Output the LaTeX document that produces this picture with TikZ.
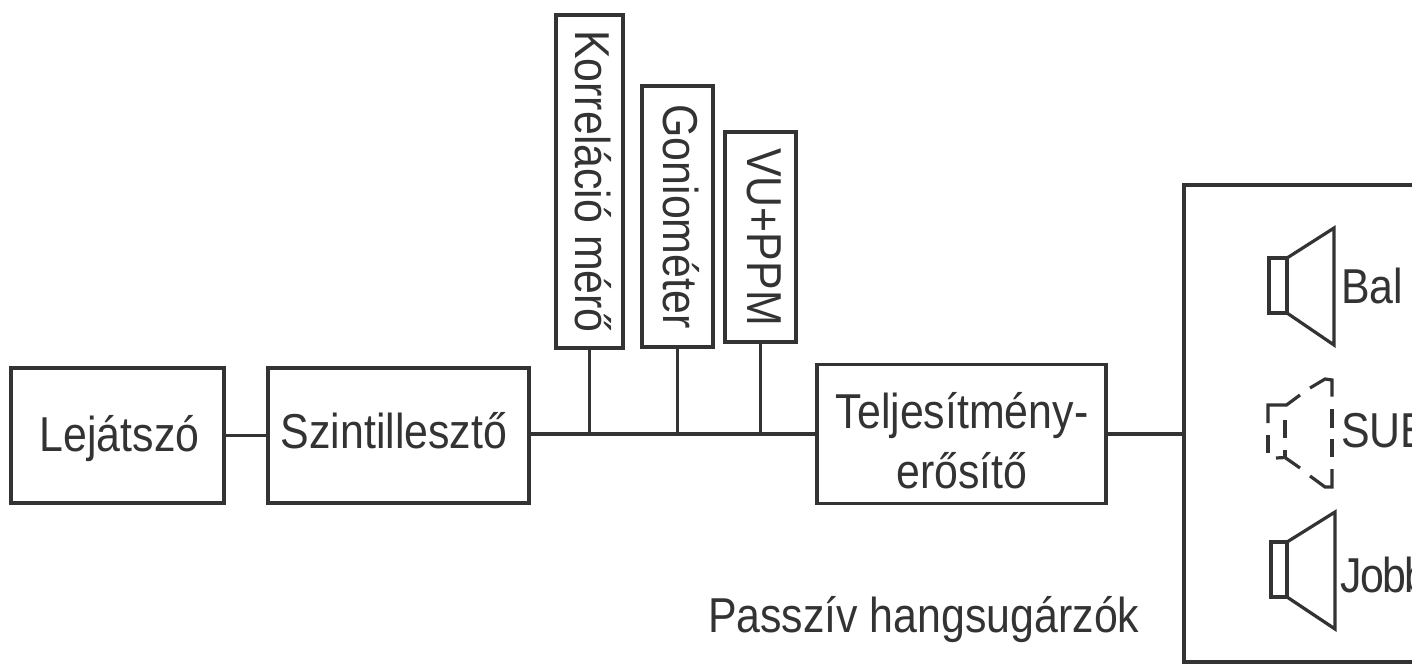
\documentclass[tikz,border=0pt]{standalone}
\usepackage{fontspec}
\setmainfont[FakeStretch=0.875]{Liberation Sans}
\definecolor{ink}{gray}{0.2}
\tikzset{
  every node/.style={text=ink,font=\fontsize{49}{59}\selectfont},
  blockbox/.style={draw=ink,line width=3.4pt,fill=white,rectangle,inner sep=0pt,outer sep=0pt,align=center},
  wire/.style={draw=ink,line width=3.4pt},
  spk/.style={draw=ink,line width=3.2pt,line join=miter},
  lab/.style={inner sep=0pt,outer sep=0pt}
}
\newcommand{\vtext}[1]{\hspace*{8pt}\rotatebox[origin=c]{-90}{#1}}
\begin{document}
\begin{tikzpicture}[x=1pt,y=-1pt]
\clip (0,0) rectangle (1412,665);
\useasboundingbox (0,0) rectangle (1412,665);
\fill[white] (0,0) rectangle (1412,665);
% blocks
\node[blockbox,minimum width=213pt,minimum height=135pt] (lej) at (117.5,435.5) {};
\node[lab,anchor=base] (lejt) at (119.5,451) {Lejátszó};
\node[blockbox,minimum width=261pt,minimum height=135pt] (szint) at (398.5,435.5) {};
\node[lab,anchor=base] (szintt) at (394,448) {Szintillesztő};
\node[blockbox,minimum width=289pt,minimum height=139pt] (telj) at (961.5,434) {};
\node[lab,anchor=base] (telj1) at (962,428) {Teljesítmény-};
\node[lab,anchor=base] (telj2) at (962,488) {erősítő};
\node[blockbox,minimum width=67pt,minimum height=333pt] (korr) at (589.5,181.5) {\vtext{Korreláció mérő}};
\node[blockbox,minimum width=71pt,minimum height=261pt] (gon) at (677.5,216.5) {\vtext{Goniométer}};
\node[blockbox,minimum width=71pt,minimum height=210pt] (vu) at (760.5,237) {\vtext{VU+PPM}};
\node[blockbox,fill=none,minimum width=400pt,minimum height=477pt] (frame) at (1384,423.5) {};
% connectors
\coordinate (busk) at (korr.south |- telj.west);
\coordinate (busg) at (gon.south |- telj.west);
\coordinate (busv) at (vu.south |- telj.west);
\draw[wire] (lej.east) -- (szint.east -| szint.west);
\draw[wire] (szint.east |- telj.west) -- (telj.west);
\draw[wire] (korr.south) -- (busk);
\draw[wire] (gon.south) -- (busg);
\draw[wire] (vu.south) -- (busv);
\draw[wire] (telj.east) -- (telj.east -| frame.west);
% loudspeakers
\draw[spk] (1269,258) rectangle (1287,313);
\draw[spk] (1287,258) -- (1334,228) -- (1334,345) -- (1287,313);
\draw[spk] (1271,542) rectangle (1287,597);
\draw[spk] (1287,542) -- (1335,512) -- (1335,629) -- (1287,597);
% dashed loudspeaker
\draw[spk] (1268,423) -- (1268,405) -- (1286.5,405) -- (1300,395);
\draw[spk] (1310,388) -- (1325,379) -- (1332,380) -- (1332,396.5);
\draw[spk] (1332,409) -- (1332,428);
\draw[spk] (1332,439) -- (1332,457);
\draw[spk] (1332,469) -- (1332,487) -- (1325,487) -- (1310,476);
\draw[spk] (1300,468) -- (1285,457.5) -- (1276,458);
\draw[spk] (1268,435) -- (1268,453);
\draw[spk] (1285,420) -- (1285,438);
\draw[spk] (1285,450) -- (1285,457.5);
% labels
\node[lab,anchor=base west] (bal) at (1341,303) {Bal};
\node[lab,anchor=base west] (sub) at (1341,447) {SUB};
\node[lab,anchor=base west] (jobb) at (1340,592) {J\kern-1pt o\kern-2pt b\kern-1.5pt b};
\node[lab,anchor=base west] (pass) at (708,632) {Passzív hangsugárzók};
\end{tikzpicture}
\end{document}
